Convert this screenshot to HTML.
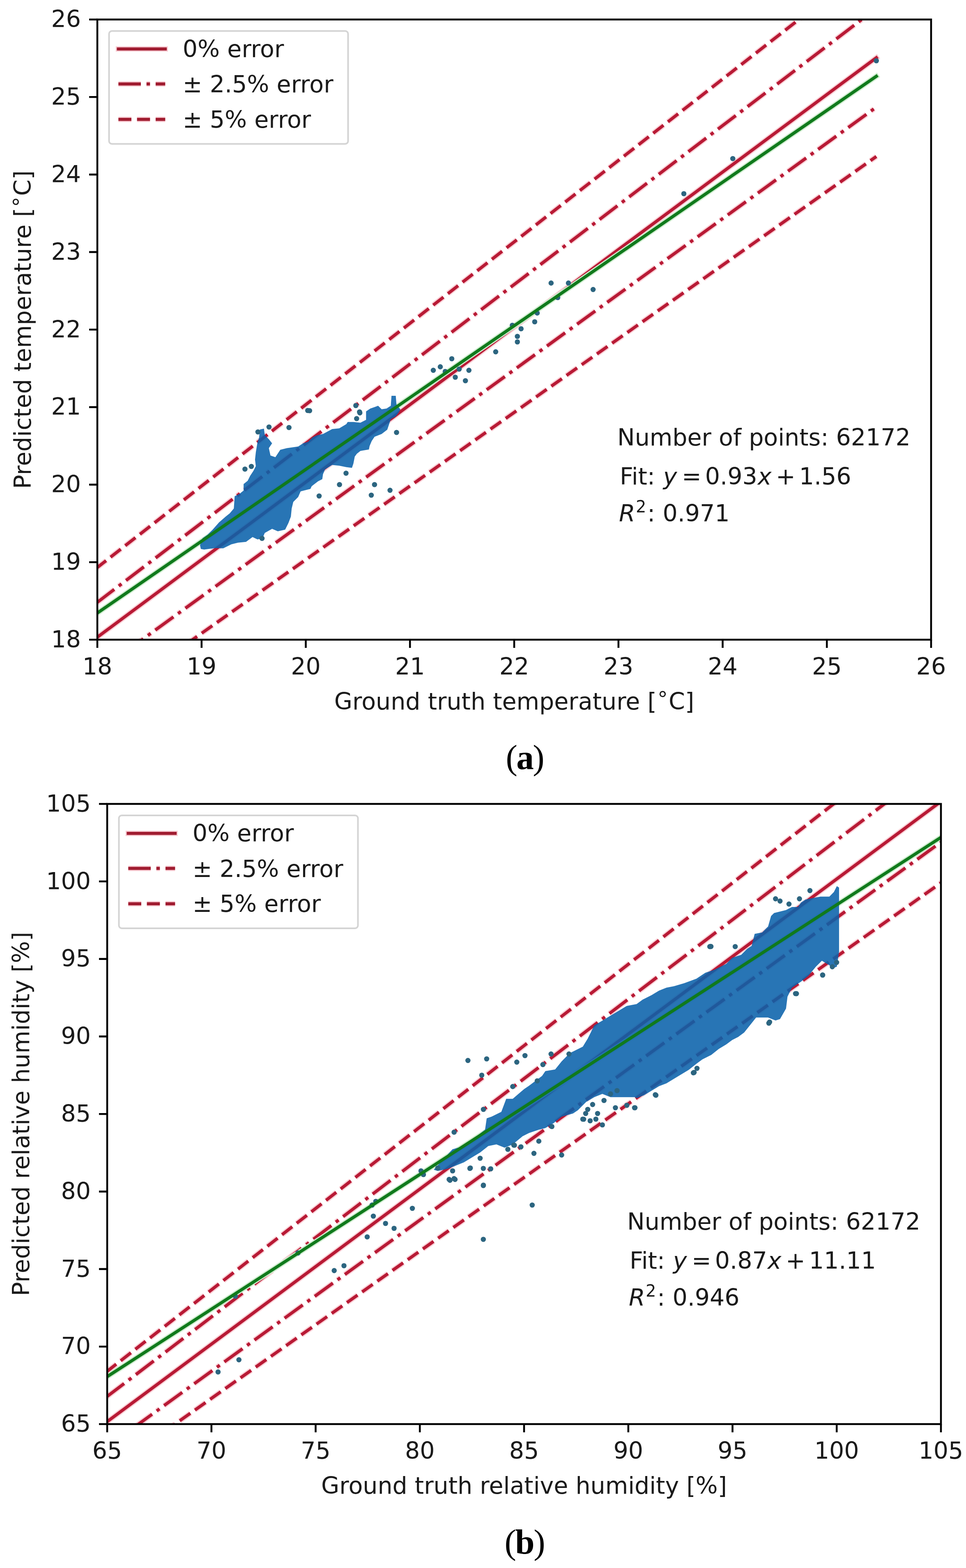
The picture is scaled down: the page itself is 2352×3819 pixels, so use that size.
<!DOCTYPE html>
<html><head><meta charset="utf-8"><title>Figure</title>
<style>html,body{margin:0;padding:0;background:#fff;}svg{display:block;}</style></head>
<body>
<svg width="2352" height="3819" viewBox="0 0 2352 3819">
<rect width="100%" height="100%" fill="#fff"/>
<clipPath id="c1"><rect x="237" y="47.5" width="2030" height="1510.5"/></clipPath>
<g clip-path="url(#c1)">
<line x1="90.6" y1="1660.9" x2="2133.8" y2="140.6" stroke="#f9ccd3" stroke-width="13" stroke-linecap="square"/><line x1="90.6" y1="1660.9" x2="2133.8" y2="140.6" stroke="#b81a35" stroke-width="7.6" stroke-linecap="square"/>
<line x1="90.6" y1="1578.7" x2="2133.8" y2="20.4" stroke="#f9ccd3" stroke-width="13" stroke-linecap="butt" stroke-dasharray="54.72 13.68 8.55 13.68" stroke-dashoffset="0"/><line x1="90.6" y1="1578.7" x2="2133.8" y2="20.4" stroke="#b81a35" stroke-width="7.6" stroke-linecap="butt" stroke-dasharray="54.72 13.68 8.55 13.68" stroke-dashoffset="0"/>
<line x1="90.6" y1="1743.2" x2="2133.8" y2="260.9" stroke="#f9ccd3" stroke-width="13" stroke-linecap="butt" stroke-dasharray="54.72 13.68 8.55 13.68" stroke-dashoffset="7.4"/><line x1="90.6" y1="1743.2" x2="2133.8" y2="260.9" stroke="#b81a35" stroke-width="7.6" stroke-linecap="butt" stroke-dasharray="54.72 13.68 8.55 13.68" stroke-dashoffset="7.4"/>
<line x1="90.6" y1="1496.5" x2="2133.8" y2="-99.9" stroke="#f9ccd3" stroke-width="13" stroke-linecap="butt" stroke-dasharray="31.64 13.68" stroke-dashoffset="0"/><line x1="90.6" y1="1496.5" x2="2133.8" y2="-99.9" stroke="#b81a35" stroke-width="7.6" stroke-linecap="butt" stroke-dasharray="31.64 13.68" stroke-dashoffset="0"/>
<line x1="90.6" y1="1825.4" x2="2133.8" y2="381.1" stroke="#f9ccd3" stroke-width="13" stroke-linecap="butt" stroke-dasharray="31.64 13.68" stroke-dashoffset="8"/><line x1="90.6" y1="1825.4" x2="2133.8" y2="381.1" stroke="#b81a35" stroke-width="7.6" stroke-linecap="butt" stroke-dasharray="31.64 13.68" stroke-dashoffset="8"/>
<line x1="110.1" y1="1580.5" x2="2133.7" y2="185.8" stroke="#cdeccd" stroke-width="13" stroke-linecap="square"/>
<g opacity="0.88">
<path d="M487 1328 L493 1311 L505.8 1301.9 L517.7 1290 L533.6 1272.1 L549.4 1258.3 L559.4 1250.3 L569.3 1238.4 L570.3 1224.5 L571.3 1208.7 L583.2 1202.7 L593.1 1194.8 L593.1 1178.9 L603 1171 L609 1159 L616.9 1147.1 L622.9 1135.2 L620.9 1119.4 L622.9 1101.5 L626.8 1077.7 L630.8 1065.8 L632.8 1046 L642.7 1044 L644.7 1059.8 L654.6 1069.8 L662.5 1079.7 L654.6 1091.6 L658.6 1109.4 L670.5 1113.4 L682.4 1095.6 L698.3 1091.6 L726 1087.6 L737.9 1079.7 L750.3 1075.9 L760.6 1065.5 L771 1060.4 L786.4 1056.9 L808.8 1044.9 L826 1043.2 L843.2 1032.9 L846.6 1027.7 L860.4 1027.7 L877.6 1029.4 L891.3 1022.5 L891.3 1001.9 L901.7 995 L912 991.6 L920.6 988.2 L929.2 996.8 L941.2 995 L951.5 988.2 L953.2 964.1 L963.6 964.1 L965.3 984.7 L970.4 991.6 L975 997 L970.4 1005.3 L963.6 1013.9 L951.5 1020.8 L946.4 1036.3 L942.9 1046.6 L929.2 1056.9 L912 1063.8 L905.1 1074.1 L899.9 1086.2 L898.2 1094.8 L877.6 1098.2 L869 1105.1 L863.8 1112 L860.4 1129.2 L856.9 1139.5 L843.2 1137.8 L826 1134.3 L808.8 1132.6 L800.2 1137.8 L791.6 1142.9 L786.4 1155 L784.7 1167 L774.4 1172.2 L758.9 1184.2 L755.8 1190.8 L739.9 1194.8 L732 1196.7 L726 1210.6 L714.1 1222.5 L710.2 1238.4 L708.2 1258.3 L702.2 1274.1 L694.3 1290 L676.4 1294 L662.5 1288 L644.7 1297.9 L638.7 1311.8 L626.8 1313.8 L614.9 1307.9 L599 1319.8 L579.2 1321.7 L563.3 1325.7 L543.5 1335.6 L524 1335 L497 1338.5 L489 1337 Z" fill="#0a62ab"/>
</g>
<circle cx="1784.2" cy="386.3" r="6.3" fill="#2c6580"/>
<circle cx="1665" cy="471.8" r="6.3" fill="#2c6580"/>
<circle cx="1341.8" cy="689.4" r="6.3" fill="#2c6580"/>
<circle cx="1384" cy="689.4" r="6.3" fill="#2c6580"/>
<circle cx="1444.1" cy="705.1" r="6.3" fill="#2c6580"/>
<circle cx="1358" cy="724.8" r="6.3" fill="#2c6580"/>
<circle cx="1308" cy="762.4" r="6.3" fill="#2c6580"/>
<circle cx="1301.9" cy="783.8" r="6.3" fill="#2c6580"/>
<circle cx="1268.7" cy="800.7" r="6.3" fill="#2c6580"/>
<circle cx="1247.4" cy="792.2" r="6.3" fill="#2c6580"/>
<circle cx="1259.7" cy="819.2" r="6.3" fill="#2c6580"/>
<circle cx="1259.7" cy="832.7" r="6.3" fill="#2c6580"/>
<circle cx="1206.9" cy="856.9" r="6.3" fill="#2c6580"/>
<circle cx="1100" cy="873.8" r="6.3" fill="#2c6580"/>
<circle cx="1072" cy="893.4" r="6.3" fill="#2c6580"/>
<circle cx="1055" cy="901.9" r="6.3" fill="#2c6580"/>
<circle cx="1084" cy="904.7" r="6.3" fill="#2c6580"/>
<circle cx="1141.7" cy="901.9" r="6.3" fill="#2c6580"/>
<circle cx="1108.5" cy="918.7" r="6.3" fill="#2c6580"/>
<circle cx="1133.2" cy="927.2" r="6.3" fill="#2c6580"/>
<circle cx="1118" cy="899" r="6.3" fill="#2c6580"/>
<circle cx="749.2" cy="999.7" r="6.3" fill="#2c6580"/>
<circle cx="703.6" cy="1041.3" r="6.3" fill="#2c6580"/>
<circle cx="868.3" cy="1019.5" r="6.3" fill="#2c6580"/>
<circle cx="876.2" cy="1005.6" r="6.3" fill="#2c6580"/>
<circle cx="866.3" cy="987.8" r="6.3" fill="#2c6580"/>
<circle cx="965.5" cy="1053.3" r="6.3" fill="#2c6580"/>
<circle cx="842.5" cy="1152.5" r="6.3" fill="#2c6580"/>
<circle cx="826.6" cy="1180.2" r="6.3" fill="#2c6580"/>
<circle cx="911.9" cy="1180.2" r="6.3" fill="#2c6580"/>
<circle cx="949.6" cy="1194.1" r="6.3" fill="#2c6580"/>
<circle cx="904" cy="1206" r="6.3" fill="#2c6580"/>
<circle cx="777" cy="1208" r="6.3" fill="#2c6580"/>
<circle cx="596.4" cy="1142.5" r="6.3" fill="#2c6580"/>
<circle cx="638" cy="1311.2" r="6.3" fill="#2c6580"/>
<circle cx="875.4" cy="1003.2" r="6.3" fill="#2c6580"/>
<circle cx="753.8" cy="1000.2" r="6.3" fill="#2c6580"/>
<circle cx="2133.7" cy="148" r="6.3" fill="#2c6580"/>
<circle cx="612" cy="1136" r="6.3" fill="#2c6580"/>
<circle cx="655" cy="1040" r="6.3" fill="#2c6580"/>
<circle cx="628" cy="1052" r="6.3" fill="#2c6580"/>
<line x1="110.1" y1="1580.5" x2="2133.7" y2="185.8" stroke="#107a1c" stroke-width="7.6" stroke-linecap="square"/>
</g>
<rect x="237" y="47.5" width="2030" height="1510.5" fill="none" stroke="#000" stroke-width="4.56" stroke-linejoin="miter"/>
<path d="M237 1558 V1578 M490.8 1558 V1578 M744.5 1558 V1578 M998.2 1558 V1578 M1252 1558 V1578 M1505.8 1558 V1578 M1759.5 1558 V1578 M2013.2 1558 V1578 M2267 1558 V1578 M237 1558 H217 M237 1369.2 H217 M237 1180.4 H217 M237 991.6 H217 M237 802.8 H217 M237 613.9 H217 M237 425.1 H217 M237 236.3 H217 M237 47.5 H217" stroke="#000" stroke-width="4.56" fill="none"/>
<g font-family="'DejaVu Sans', 'Liberation Sans', sans-serif" font-size="57" fill="#1a1a1a">
<text x="237" y="1642.5" text-anchor="middle">18</text>
<text x="490.8" y="1642.5" text-anchor="middle">19</text>
<text x="744.5" y="1642.5" text-anchor="middle">20</text>
<text x="998.2" y="1642.5" text-anchor="middle">21</text>
<text x="1252" y="1642.5" text-anchor="middle">22</text>
<text x="1505.8" y="1642.5" text-anchor="middle">23</text>
<text x="1759.5" y="1642.5" text-anchor="middle">24</text>
<text x="2013.2" y="1642.5" text-anchor="middle">25</text>
<text x="2267" y="1642.5" text-anchor="middle">26</text>
<text x="197" y="1576.7" text-anchor="end">18</text>
<text x="197" y="1387.9" text-anchor="end">19</text>
<text x="197" y="1199.1" text-anchor="end">20</text>
<text x="197" y="1010.3" text-anchor="end">21</text>
<text x="197" y="821.5" text-anchor="end">22</text>
<text x="197" y="632.6" text-anchor="end">23</text>
<text x="197" y="443.8" text-anchor="end">24</text>
<text x="197" y="255" text-anchor="end">25</text>
<text x="197" y="66.2" text-anchor="end">26</text>
<text x="1252" y="1727.5" text-anchor="middle">Ground truth temperature [<tspan font-size="50" dy="-21.5" dx="-1">∘</tspan><tspan dy="21.5" dx="-1">C]</tspan></text>
<text transform="translate(75.4 802.8) rotate(-90)" text-anchor="middle">Predicted temperature [<tspan font-size="50" dy="-21.5" dx="-1">∘</tspan><tspan dy="21.5" dx="-1">C]</tspan></text>
</g>
<rect x="265.5" y="75.5" width="582" height="275" rx="7" ry="7" fill="#fff" fill-opacity="0.85" stroke="#d4d4d4" stroke-width="4"/>
<line x1="288.3" y1="119.3" x2="402.3" y2="119.3" stroke="#f9ccd3" stroke-width="13" stroke-linecap="square"/>
<line x1="288.3" y1="204.5" x2="402.3" y2="204.5" stroke="#f9ccd3" stroke-width="13" stroke-dasharray="54.72 13.68 8.55 13.68"/>
<line x1="288.3" y1="290.7" x2="402.3" y2="290.7" stroke="#f9ccd3" stroke-width="13" stroke-dasharray="31.64 13.68"/>
<line x1="288.3" y1="119.3" x2="402.3" y2="119.3" stroke="#a01c30" stroke-width="7.6" stroke-linecap="square"/>
<line x1="288.3" y1="204.5" x2="402.3" y2="204.5" stroke="#a01c30" stroke-width="7.6" stroke-dasharray="54.72 13.68 8.55 13.68"/>
<line x1="288.3" y1="290.7" x2="402.3" y2="290.7" stroke="#a01c30" stroke-width="7.6" stroke-dasharray="31.64 13.68"/>
<g font-family="'DejaVu Sans', 'Liberation Sans', sans-serif" font-size="57" fill="#1a1a1a">
<text x="444.8" y="138.7">0% error</text>
<text x="444.8" y="225">± 2.5% error</text>
<text x="444.8" y="310.5">± 5% error</text>
<text x="1503" y="1085.3">Number of points: 62172</text>
<text x="1509" y="1179.8">Fit: <tspan font-style="italic" dx="1.5">y</tspan><tspan dx="11.6">=</tspan><tspan dx="9">0.93</tspan><tspan font-style="italic" dx="1">x</tspan><tspan dx="10.5">+</tspan><tspan dx="9">1.56</tspan></text>
<text x="1507" y="1269.8"><tspan font-style="italic">R</tspan><tspan font-size="40" dy="-22" dx="1.5">2</tspan><tspan dy="22" dx="2.5">: 0.971</tspan></text>
</g>
<clipPath id="c2"><rect x="261" y="1958" width="2030" height="1510.5"/></clipPath>
<g clip-path="url(#c2)">
<line x1="186.7" y1="3517.8" x2="2341.8" y2="1914.2" stroke="#f9ccd3" stroke-width="13" stroke-linecap="square"/><line x1="186.7" y1="3517.8" x2="2341.8" y2="1914.2" stroke="#b81a35" stroke-width="7.6" stroke-linecap="square"/>
<line x1="186.7" y1="3457.8" x2="2341.8" y2="1814.2" stroke="#f9ccd3" stroke-width="13" stroke-linecap="butt" stroke-dasharray="54.72 13.68 8.55 13.68" stroke-dashoffset="0"/><line x1="186.7" y1="3457.8" x2="2341.8" y2="1814.2" stroke="#b81a35" stroke-width="7.6" stroke-linecap="butt" stroke-dasharray="54.72 13.68 8.55 13.68" stroke-dashoffset="0"/>
<line x1="186.7" y1="3577.8" x2="2341.8" y2="2014.3" stroke="#f9ccd3" stroke-width="13" stroke-linecap="butt" stroke-dasharray="54.72 13.68 8.55 13.68" stroke-dashoffset="9"/><line x1="186.7" y1="3577.8" x2="2341.8" y2="2014.3" stroke="#b81a35" stroke-width="7.6" stroke-linecap="butt" stroke-dasharray="54.72 13.68 8.55 13.68" stroke-dashoffset="9"/>
<line x1="186.7" y1="3397.9" x2="2341.8" y2="1714.1" stroke="#f9ccd3" stroke-width="13" stroke-linecap="butt" stroke-dasharray="31.64 13.68" stroke-dashoffset="0"/><line x1="186.7" y1="3397.9" x2="2341.8" y2="1714.1" stroke="#b81a35" stroke-width="7.6" stroke-linecap="butt" stroke-dasharray="31.64 13.68" stroke-dashoffset="0"/>
<line x1="186.7" y1="3637.8" x2="2341.8" y2="2114.4" stroke="#f9ccd3" stroke-width="13" stroke-linecap="butt" stroke-dasharray="31.64 13.68" stroke-dashoffset="10"/><line x1="186.7" y1="3637.8" x2="2341.8" y2="2114.4" stroke="#b81a35" stroke-width="7.6" stroke-linecap="butt" stroke-dasharray="31.64 13.68" stroke-dashoffset="10"/>
<line x1="231" y1="3372.3" x2="2321" y2="2020.1" stroke="#cdeccd" stroke-width="13" stroke-linecap="square"/>
<g opacity="0.88">
<path d="M1056 2849 L1101.6 2799.2 L1129.4 2791.3 L1181 2751.6 L1185 2723.8 L1196.8 2719.8 L1220.6 2708 L1232.5 2676.2 L1248.4 2676.2 L1276.2 2652.4 L1288 2644.4 L1319.8 2620.6 L1327.8 2608.7 L1351.6 2604.8 L1367.5 2584.9 L1387.3 2565 L1419 2549.2 L1431 2529.4 L1446.8 2497.6 L1466.7 2485.7 L1486.5 2473.8 L1526.2 2450 L1550 2445.6 L1564.6 2434.7 L1586.4 2423.8 L1604.6 2412.8 L1622.8 2405.6 L1640.9 2401.9 L1666.4 2394.6 L1695.5 2383.7 L1717.3 2369.2 L1739.2 2361.9 L1768.3 2347.4 L1782.8 2332.8 L1804.6 2325.5 L1819.2 2311 L1830.1 2303.7 L1837.4 2274.6 L1855.6 2271 L1870.1 2256.4 L1877.4 2231 L1884.7 2223.7 L1913.8 2216.4 L1928.3 2209.1 L1942.9 2209.1 L1950.2 2198.2 L1961.1 2190.9 L1979.2 2187.3 L1997.4 2183.7 L2019.3 2183.7 L2030.2 2172.8 L2037.5 2158.2 L2042.9 2161.8 L2042.9 2318.3 L2037.5 2354.6 L2026.5 2358.3 L2019.3 2351 L2001.1 2340.1 L1986.5 2354.6 L1968.3 2376.5 L1950.2 2391 L1928.3 2405.6 L1917.4 2427.4 L1913.8 2456.5 L1899.2 2482 L1888.3 2485.6 L1870.1 2478.3 L1841 2478.3 L1826.5 2496.5 L1811.9 2514.7 L1797.4 2525.6 L1782.8 2532.9 L1768.3 2543.8 L1750.1 2554.7 L1731.9 2569.3 L1710.1 2580.2 L1695.5 2591.1 L1677.3 2605.6 L1659.1 2616.6 L1640.9 2627.5 L1622.8 2638.4 L1604.6 2645.6 L1586.4 2656.6 L1568.2 2667.5 L1550 2674.7 L1546 2672.2 L1506.3 2672.2 L1486.5 2672.2 L1466.7 2664.3 L1446.8 2672.2 L1427 2684.1 L1407.1 2704 L1395.2 2711.9 L1367.5 2719.8 L1347.6 2735.7 L1327.8 2747.6 L1311.9 2751.6 L1288.1 2759.5 L1272.2 2767.5 L1248.4 2787.3 L1228.6 2795.2 L1208.7 2787.3 L1188.9 2791.3 L1169 2807.1 L1149.2 2819 L1129.4 2831 L1109.5 2838.9 L1089.7 2846.8 L1065.9 2852 Z" fill="#0a62ab"/>
</g>
<circle cx="1176.8" cy="3018.5" r="6.3" fill="#2c6580"/>
<circle cx="894" cy="3012.5" r="6.3" fill="#2c6580"/>
<circle cx="909" cy="2962" r="6.3" fill="#2c6580"/>
<circle cx="938.7" cy="2979.8" r="6.3" fill="#2c6580"/>
<circle cx="959.5" cy="2991.7" r="6.3" fill="#2c6580"/>
<circle cx="906" cy="2935" r="6.3" fill="#2c6580"/>
<circle cx="915" cy="2926" r="6.3" fill="#2c6580"/>
<circle cx="1004" cy="2943" r="6.3" fill="#2c6580"/>
<circle cx="813.7" cy="3094.6" r="6.3" fill="#2c6580"/>
<circle cx="837.5" cy="3082.7" r="6.3" fill="#2c6580"/>
<circle cx="1031" cy="2860.7" r="6.3" fill="#2c6580"/>
<circle cx="1025" cy="2851.8" r="6.3" fill="#2c6580"/>
<circle cx="1093.5" cy="2872.6" r="6.3" fill="#2c6580"/>
<circle cx="1108" cy="2872.6" r="6.3" fill="#2c6580"/>
<circle cx="1102" cy="2851.8" r="6.3" fill="#2c6580"/>
<circle cx="1176.8" cy="2887.5" r="6.3" fill="#2c6580"/>
<circle cx="1144" cy="2845.8" r="6.3" fill="#2c6580"/>
<circle cx="1176.8" cy="2845.8" r="6.3" fill="#2c6580"/>
<circle cx="1295.8" cy="2935" r="6.3" fill="#2c6580"/>
<circle cx="581.7" cy="3311.9" r="6.3" fill="#2c6580"/>
<circle cx="530.9" cy="3341.5" r="6.3" fill="#2c6580"/>
<circle cx="573" cy="3157" r="6.3" fill="#2c6580"/>
<circle cx="725.6" cy="3051.6" r="6.3" fill="#2c6580"/>
<circle cx="1139.3" cy="2582.9" r="6.3" fill="#2c6580"/>
<circle cx="1184.9" cy="2579" r="6.3" fill="#2c6580"/>
<circle cx="1173" cy="2618.7" r="6.3" fill="#2c6580"/>
<circle cx="1258.3" cy="2586.9" r="6.3" fill="#2c6580"/>
<circle cx="1278.2" cy="2571" r="6.3" fill="#2c6580"/>
<circle cx="1308" cy="2632.5" r="6.3" fill="#2c6580"/>
<circle cx="1248.4" cy="2646.4" r="6.3" fill="#2c6580"/>
<circle cx="1341.7" cy="2567.1" r="6.3" fill="#2c6580"/>
<circle cx="1385.3" cy="2567.1" r="6.3" fill="#2c6580"/>
<circle cx="1321.8" cy="2592.9" r="6.3" fill="#2c6580"/>
<circle cx="1105.6" cy="2757.5" r="6.3" fill="#2c6580"/>
<circle cx="1177" cy="2702" r="6.3" fill="#2c6580"/>
<circle cx="1343.7" cy="2743.7" r="6.3" fill="#2c6580"/>
<circle cx="1311.9" cy="2779.4" r="6.3" fill="#2c6580"/>
<circle cx="1300" cy="2809.1" r="6.3" fill="#2c6580"/>
<circle cx="1367.5" cy="2813.1" r="6.3" fill="#2c6580"/>
<circle cx="1236.5" cy="2799.2" r="6.3" fill="#2c6580"/>
<circle cx="1252.4" cy="2789.3" r="6.3" fill="#2c6580"/>
<circle cx="1268.3" cy="2793.3" r="6.3" fill="#2c6580"/>
<circle cx="1169" cy="2821" r="6.3" fill="#2c6580"/>
<circle cx="1145.2" cy="2844.8" r="6.3" fill="#2c6580"/>
<circle cx="1194.8" cy="2846.8" r="6.3" fill="#2c6580"/>
<circle cx="1065.9" cy="2844.8" r="6.3" fill="#2c6580"/>
<circle cx="1105.6" cy="2870.6" r="6.3" fill="#2c6580"/>
<circle cx="1095.6" cy="2874.6" r="6.3" fill="#2c6580"/>
<circle cx="1177" cy="2886.5" r="6.3" fill="#2c6580"/>
<circle cx="1419" cy="2725.8" r="6.3" fill="#2c6580"/>
<circle cx="1436.9" cy="2729.8" r="6.3" fill="#2c6580"/>
<circle cx="1450.8" cy="2725.8" r="6.3" fill="#2c6580"/>
<circle cx="1466.7" cy="2739.7" r="6.3" fill="#2c6580"/>
<circle cx="1431" cy="2702" r="6.3" fill="#2c6580"/>
<circle cx="1442.9" cy="2690.1" r="6.3" fill="#2c6580"/>
<circle cx="1498.4" cy="2698" r="6.3" fill="#2c6580"/>
<circle cx="1546" cy="2698" r="6.3" fill="#2c6580"/>
<circle cx="1595.6" cy="2666.3" r="6.3" fill="#2c6580"/>
<circle cx="1470.6" cy="2680.2" r="6.3" fill="#2c6580"/>
<circle cx="1486.5" cy="2664.3" r="6.3" fill="#2c6580"/>
<circle cx="1502.4" cy="2656.3" r="6.3" fill="#2c6580"/>
<circle cx="1526.2" cy="2692" r="6.3" fill="#2c6580"/>
<circle cx="1426" cy="2712" r="6.3" fill="#2c6580"/>
<circle cx="1455" cy="2712" r="6.3" fill="#2c6580"/>
<circle cx="1888.3" cy="2189.1" r="6.3" fill="#2c6580"/>
<circle cx="1899.2" cy="2194.6" r="6.3" fill="#2c6580"/>
<circle cx="1921" cy="2201.9" r="6.3" fill="#2c6580"/>
<circle cx="1946.5" cy="2189.1" r="6.3" fill="#2c6580"/>
<circle cx="1972" cy="2169.1" r="6.3" fill="#2c6580"/>
<circle cx="1728.2" cy="2305.5" r="6.3" fill="#2c6580"/>
<circle cx="1790.1" cy="2305.5" r="6.3" fill="#2c6580"/>
<circle cx="2002.9" cy="2374.6" r="6.3" fill="#2c6580"/>
<circle cx="1939.2" cy="2420.1" r="6.3" fill="#2c6580"/>
<circle cx="1873.8" cy="2489.2" r="6.3" fill="#2c6580"/>
<circle cx="2026.5" cy="2354.6" r="6.3" fill="#2c6580"/>
<circle cx="1688.2" cy="2612.9" r="6.3" fill="#2c6580"/>
<circle cx="1697" cy="2602" r="6.3" fill="#2c6580"/>
<circle cx="1730" cy="2305" r="6.3" fill="#2c6580"/>
<circle cx="1731" cy="2305.3" r="6.3" fill="#2c6580"/>
<circle cx="1690" cy="2612" r="6.3" fill="#2c6580"/>
<circle cx="1597" cy="2667.5" r="6.3" fill="#2c6580"/>
<circle cx="1545" cy="2698" r="6.3" fill="#2c6580"/>
<circle cx="1421" cy="2726" r="6.3" fill="#2c6580"/>
<circle cx="1251" cy="2789" r="6.3" fill="#2c6580"/>
<circle cx="2037" cy="2344" r="6.3" fill="#2c6580"/>
<circle cx="2003" cy="2375" r="6.3" fill="#2c6580"/>
<circle cx="1937" cy="2420" r="6.3" fill="#2c6580"/>
<circle cx="1872" cy="2492" r="6.3" fill="#2c6580"/>
<line x1="231" y1="3372.3" x2="2321" y2="2020.1" stroke="#107a1c" stroke-width="7.6" stroke-linecap="square"/>
</g>
<rect x="261" y="1958" width="2030" height="1510.5" fill="none" stroke="#000" stroke-width="4.56" stroke-linejoin="miter"/>
<path d="M261 3468.5 V3488.5 M514.8 3468.5 V3488.5 M768.5 3468.5 V3488.5 M1022.2 3468.5 V3488.5 M1276 3468.5 V3488.5 M1529.8 3468.5 V3488.5 M1783.5 3468.5 V3488.5 M2037.2 3468.5 V3488.5 M2291 3468.5 V3488.5 M261 3468.5 H241 M261 3279.7 H241 M261 3090.9 H241 M261 2902.1 H241 M261 2713.2 H241 M261 2524.4 H241 M261 2335.6 H241 M261 2146.8 H241 M261 1958 H241" stroke="#000" stroke-width="4.56" fill="none"/>
<g font-family="'DejaVu Sans', 'Liberation Sans', sans-serif" font-size="57" fill="#1a1a1a">
<text x="261" y="3553" text-anchor="middle">65</text>
<text x="514.8" y="3553" text-anchor="middle">70</text>
<text x="768.5" y="3553" text-anchor="middle">75</text>
<text x="1022.2" y="3553" text-anchor="middle">80</text>
<text x="1276" y="3553" text-anchor="middle">85</text>
<text x="1529.8" y="3553" text-anchor="middle">90</text>
<text x="1783.5" y="3553" text-anchor="middle">95</text>
<text x="2037.2" y="3553" text-anchor="middle">100</text>
<text x="2291" y="3553" text-anchor="middle">105</text>
<text x="221" y="3487.2" text-anchor="end">65</text>
<text x="221" y="3298.4" text-anchor="end">70</text>
<text x="221" y="3109.6" text-anchor="end">75</text>
<text x="221" y="2920.8" text-anchor="end">80</text>
<text x="221" y="2731.9" text-anchor="end">85</text>
<text x="221" y="2543.1" text-anchor="end">90</text>
<text x="221" y="2354.3" text-anchor="end">95</text>
<text x="221" y="2165.5" text-anchor="end">100</text>
<text x="221" y="1976.7" text-anchor="end">105</text>
<text x="1276" y="3638" text-anchor="middle">Ground truth relative humidity [%]</text>
<text transform="translate(70.5 2713.2) rotate(-90)" text-anchor="middle">Predicted relative humidity [%]</text>
</g>
<rect x="289.5" y="1986" width="582" height="275" rx="7" ry="7" fill="#fff" fill-opacity="0.85" stroke="#d4d4d4" stroke-width="4"/>
<line x1="312.3" y1="2029.8" x2="426.3" y2="2029.8" stroke="#f9ccd3" stroke-width="13" stroke-linecap="square"/>
<line x1="312.3" y1="2115" x2="426.3" y2="2115" stroke="#f9ccd3" stroke-width="13" stroke-dasharray="54.72 13.68 8.55 13.68"/>
<line x1="312.3" y1="2201.2" x2="426.3" y2="2201.2" stroke="#f9ccd3" stroke-width="13" stroke-dasharray="31.64 13.68"/>
<line x1="312.3" y1="2029.8" x2="426.3" y2="2029.8" stroke="#a01c30" stroke-width="7.6" stroke-linecap="square"/>
<line x1="312.3" y1="2115" x2="426.3" y2="2115" stroke="#a01c30" stroke-width="7.6" stroke-dasharray="54.72 13.68 8.55 13.68"/>
<line x1="312.3" y1="2201.2" x2="426.3" y2="2201.2" stroke="#a01c30" stroke-width="7.6" stroke-dasharray="31.64 13.68"/>
<g font-family="'DejaVu Sans', 'Liberation Sans', sans-serif" font-size="57" fill="#1a1a1a">
<text x="468.8" y="2049.2">0% error</text>
<text x="468.8" y="2135.5">± 2.5% error</text>
<text x="468.8" y="2221">± 5% error</text>
<text x="1527" y="2995.3">Number of points: 62172</text>
<text x="1533" y="3089.8">Fit: <tspan font-style="italic" dx="1.5">y</tspan><tspan dx="11.6">=</tspan><tspan dx="9">0.87</tspan><tspan font-style="italic" dx="1">x</tspan><tspan dx="10.5">+</tspan><tspan dx="9">11.11</tspan></text>
<text x="1531" y="3179.8"><tspan font-style="italic">R</tspan><tspan font-size="40" dy="-22" dx="1.5">2</tspan><tspan dy="22" dx="2.5">: 0.946</tspan></text>
</g>
<g font-family="'Liberation Serif', serif" font-size="85" fill="#000" text-anchor="middle"><text x="1278.5" y="1873">(<tspan font-weight="bold" dx="-2.5">a</tspan><tspan dx="-2.5">)</tspan></text><text x="1278" y="3784">(<tspan font-weight="bold" dx="-2.5">b</tspan><tspan dx="-2.5">)</tspan></text></g>
</svg>
</body></html>
